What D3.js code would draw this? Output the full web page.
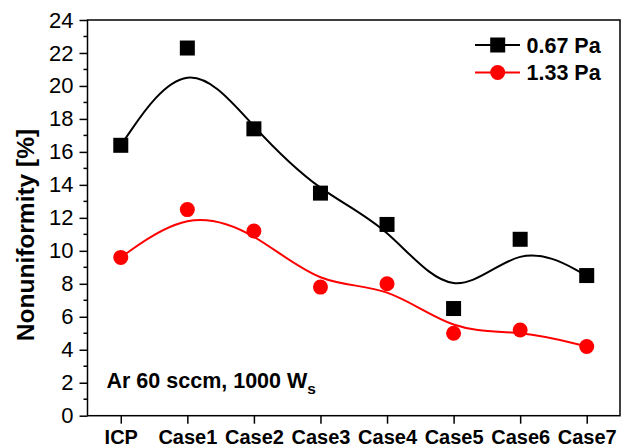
<!DOCTYPE html>
<html>
<head>
<meta charset="utf-8">
<script src="https://cdn.jsdelivr.net/npm/d3@7"></script>
<style>
  body { margin: 0; background: #fff; }
  text { font-family: "Liberation Sans", Arial, sans-serif; }
</style>
</head>
<body>
<svg id="chart" width="624" height="448"></svg>
<script>
let categories = ["ICP", "Case1", "Case2", "Case3", "Case4", "Case5", "Case6", "Case7"]
let p067 = [16.4, 22.3, 17.4, 13.5, 11.6, 6.5, 10.7, 8.5]
let p133 = [9.6, 12.5, 11.2, 7.8, 8.0, 5.0, 5.2, 4.2]
let yTicks = [0, 2, 4, 6, 8, 10, 12, 14, 16, 18, 20, 22, 24]

let svg = d3.select("#chart")
let plotLeft = 87.5, plotRight = 620, plotTop = 20, plotBottom = 415.7

let x = d3.scaleLinear().domain([-0.5, 7.5]).range([plotLeft, plotRight])
let y = d3.scaleLinear().domain([0, 24]).range([plotBottom, plotTop])

// frame
svg.append("rect")
    .attr("x", plotLeft).attr("y", plotTop)
    .attr("width", plotRight - plotLeft).attr("height", plotBottom - plotTop)
    .attr("fill", "none").attr("stroke", "#000").attr("stroke-width", 1.5)

// y axis
let yAxis = svg.append("g").attr("transform", `translate(${plotLeft},0)`)
    .call(d3.axisLeft(y).tickValues(yTicks).tickSize(8).tickPadding(6))
yAxis.select(".domain").remove()
yAxis.selectAll("line").attr("stroke-width", 1.5)
yAxis.selectAll("text").attr("font-size", 22).attr("font-family", "Liberation Sans, Arial")

// minor ticks
svg.append("g").selectAll("line")
    .data(d3.range(1, 24, 2))
    .enter().append("line")
    .attr("x1", plotLeft - 4).attr("x2", plotLeft)
    .attr("y1", d => y(d)).attr("y2", d => y(d))
    .attr("stroke", "#000").attr("stroke-width", 1.5)

// x axis
let xAxis = svg.append("g").attr("transform", `translate(0,${plotBottom})`)
    .call(d3.axisBottom(x).tickValues(d3.range(categories.length))
        .tickFormat(i => categories[i]).tickSize(8).tickPadding(6))
xAxis.select(".domain").remove()
xAxis.selectAll("line").attr("stroke-width", 1.5)
xAxis.selectAll("text").attr("font-size", 20).attr("font-weight", "bold")
    .attr("font-family", "Liberation Sans, Arial")

// y label
svg.append("text")
    .attr("transform", "translate(33.5,235) rotate(-90)")
    .attr("text-anchor", "middle")
    .attr("font-size", 24.5).attr("font-weight", "bold")
    .text("Nonuniformity [%]")

// B-spline curves, like Origin
let line = d3.line()
    .x((d, i) => x(i))
    .y(d => y(d))
    .curve(d3.curveBasis)

svg.append("path").datum(p067).attr("d", line)
    .attr("fill", "none").attr("stroke", "#000").attr("stroke-width", 2)
svg.append("path").datum(p133).attr("d", line)
    .attr("fill", "none").attr("stroke", "#ff0000").attr("stroke-width", 2)

// markers
svg.append("g").selectAll("rect")
    .data(p067).enter().append("rect")
    .attr("x", (d, i) => x(i) - 7.5).attr("y", d => y(d) - 7.5)
    .attr("width", 15).attr("height", 15).attr("fill", "#000")

svg.append("g").selectAll("circle")
    .data(p133).enter().append("circle")
    .attr("cx", (d, i) => x(i)).attr("cy", d => y(d))
    .attr("r", 7.5).attr("fill", "#ff0000")

// legend
let legend = [
    { label: "0.67 Pa", color: "#000", shape: "square", yy: 45 },
    { label: "1.33 Pa", color: "#ff0000", shape: "circle", yy: 72.5 }
]
legend.forEach(l => {
    svg.append("line")
        .attr("x1", 475).attr("x2", 520).attr("y1", l.yy).attr("y2", l.yy)
        .attr("stroke", l.color).attr("stroke-width", 2)
    if (l.shape === "square") {
        svg.append("rect").attr("x", 497.7 - 7.5).attr("y", l.yy - 7.5)
            .attr("width", 15).attr("height", 15).attr("fill", l.color)
    } else {
        svg.append("circle").attr("cx", 497.7).attr("cy", l.yy).attr("r", 7.5)
            .attr("fill", l.color)
    }
    svg.append("text")
        .attr("x", 526.5).attr("y", l.yy + 7.5)
        .attr("font-size", 21.5).attr("font-weight", "bold")
        .text(l.label)
})

// annotation
let note = svg.append("text")
    .attr("x", 106.5).attr("y", 388)
    .attr("font-size", 21.5).attr("font-weight", "bold")
note.append("tspan").text("Ar 60 sccm, 1000 W")
note.append("tspan").attr("dy", 6).attr("font-size", 15.5).text("s")
</script>
</body>
</html>
